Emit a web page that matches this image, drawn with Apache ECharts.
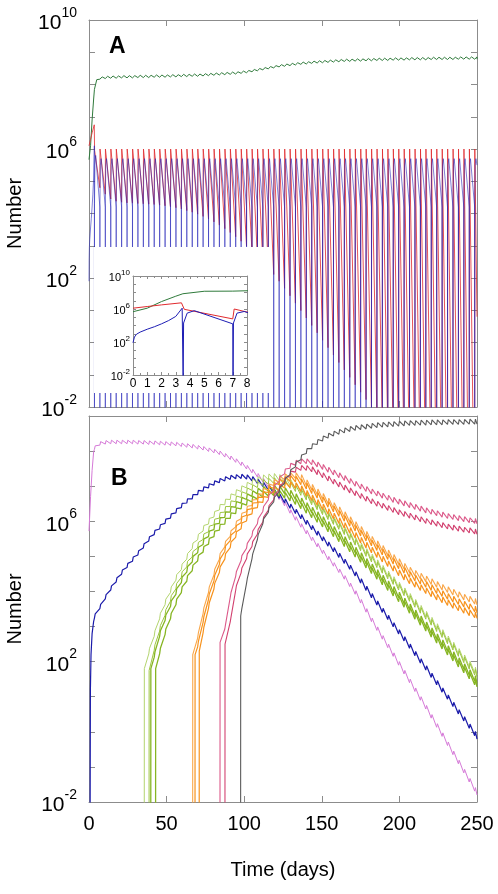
<!DOCTYPE html>
<html><head><meta charset="utf-8">
<script src="https://cdn.jsdelivr.net/npm/echarts@6/dist/echarts.min.js"></script>
<style>html,body{margin:0;padding:0;background:#fff}#c{width:498px;height:894px}</style>
</head><body><div id="c"></div>
<script>
// ---------- DATA (values are log10 of Number) ----------
const doseDays = [
  0, 3.5, 7, 10.5, 14, 17.5, 21, 24.5, 28, 31.5,
  35, 38.5, 42, 45.5, 49, 52.5, 56, 59.5, 63, 66.5,
  70, 73.5, 77, 80.5, 84, 87.5, 91, 94.5, 98, 101.5,
  105, 108.5, 112, 115.5, 119, 122.5, 126, 129.5, 133, 136.5,
  140, 143.5, 147, 150.5, 154, 157.5, 161, 164.5, 168, 171.5,
  175, 178.5, 182, 185.5, 189, 192.5, 196, 199.5, 203, 206.5,
  210, 213.5, 217, 220.5, 224, 227.5, 231, 234.5, 238, 241.5,
  245, 248.5
];
const endDay = 250;
const yLabelsA = [-2, 2, 6, 10];
const yLabelsB = [-2, 2, 6];

// Panel A
const greenALead = [[0, 5.67], [1, 6.1], [2, 6.9], [3, 7.55], [3.5, 7.85], [5, 8.15]];
const greenALog = [ // from day 7
  8.2, 8.22, 8.23, 8.23, 8.24, 8.24, 8.24, 8.25,
  8.25, 8.25, 8.26, 8.26, 8.26, 8.27, 8.27, 8.28, 8.28, 8.29,
  8.29, 8.3, 8.31, 8.32, 8.33, 8.34, 8.35, 8.36, 8.38, 8.4,
  8.43, 8.46, 8.49, 8.52, 8.55, 8.58, 8.6, 8.62, 8.64, 8.66,
  8.67, 8.69, 8.7, 8.71, 8.72, 8.73, 8.74, 8.75, 8.75, 8.76,
  8.76, 8.77, 8.77, 8.78, 8.78, 8.78, 8.79, 8.79, 8.79, 8.8,
  8.8, 8.8, 8.8, 8.81, 8.81, 8.81, 8.81, 8.81, 8.82, 8.82,
  8.82, 8.82, 8.82
];
const redLead = [[0, 6.1], [1, 6.3], [2, 6.5], [3.4, 6.75]];
const redPreLog = [ // just before each dose, from day 3.5
  6.77, 4.8, 4.6, 4.45, 4.38, 4.35, 4.33, 4.32, 4.31,
  4.3, 4.29, 4.28, 4.26, 4.24, 4.21, 4.18, 4.14, 4.09, 4.04,
  3.98, 3.91, 3.83, 3.74, 3.64, 3.53, 3.41, 3.28, 3.14, 2.99,
  2.83, 2.66, 2.49, 2.3, 2.11, 1.9, 1.68, 1.45, 1.22, 0.99,
  0.76, 0.53, 0.3, 0.07, -0.16, -0.39, -0.62, -0.85, -1.08, -1.31,
  -1.54, -1.77, -2.0, -2.23, -2.46, -2.69, -2.92, -3.15, -3.38, -3.61,
  -3.84, -4.07, -4.3, -4.53, -4.76, -4.99, -5.22, -5.45, -5.68, -5.91,
  -6.14, -6.37
];
const redPeakLog = [ // just after each dose, from day 3.5
  5.96, 6, 6, 6, 6, 6, 6, 6, 6,
  6, 6, 6, 6, 6, 6, 6, 6, 6, 6,
  6, 6, 6, 6, 6, 6, 6, 6, 6, 6,
  6, 6, 6, 6, 6, 6, 6, 6, 6, 6,
  6, 6, 6, 6, 6, 6, 6, 6, 6, 6,
  6, 6, 6, 6, 6, 6, 6, 6, 6, 6,
  6, 6, 6, 6, 6, 6, 6, 6, 6, 6,
  6, 6
];
const redEndLog = 0.8;
const blueALead = [[0, 1.9], [0.1, 2.6], [0.25, 2.95], [0.5, 3.2], [1, 3.55], [1.5, 3.85], [2, 4.2], [2.5, 4.6], [3, 5.1], [3.45, 6.1]];
const bluePreLog = [
  6.1, 4.2, 4.2, 4.2, 4.2, 4.2, 4.2, 4.2, 4.2,
  4.2, 4.2, 4.2, 4.2, 4.2, 4.2, 4.2, 4.2, 4.2, 4.2,
  4.2, 4.2, 4.2, 4.2, 4.2, 4.2, 4.2, 4.2, 4.2, 4.2,
  4.2, 4.2, 4.2, 4.2, 4.2, 4.2, 4.2, 4.2, 4.2, 4.2,
  4.2, 4.2, 4.2, 4.2, 4.2, 4.2, 4.2, 4.2, 4.2, 4.2,
  4.2, 4.2, 4.2, 4.2, 4.2, 4.2, 4.2, 4.2, 4.2, 4.2,
  4.2, 4.2, 4.2, 4.2, 4.2, 4.2, 4.2, 4.2, 4.2, 4.2,
  4.2, 4.2
];
const bluePeakLog = [
  5.8, 5.7, 5.7, 5.7, 5.7, 5.7, 5.7, 5.7, 5.7,
  5.7, 5.7, 5.7, 5.7, 5.7, 5.7, 5.7, 5.7, 5.7, 5.7,
  5.7, 5.7, 5.7, 5.7, 5.7, 5.7, 5.7, 5.7, 5.7, 5.7,
  5.7, 5.7, 5.7, 5.7, 5.7, 5.7, 5.7, 5.7, 5.7, 5.7,
  5.7, 5.7, 5.7, 5.7, 5.7, 5.7, 5.7, 5.7, 5.7, 5.7,
  5.7, 5.7, 5.7, 5.7, 5.7, 5.7, 5.7, 5.7, 5.7, 5.7,
  5.7, 5.7, 5.7, 5.7, 5.7, 5.7, 5.7, 5.7, 5.7, 5.7,
  5.7, 5.7
];
const blueRestartLog = 4.3;
const blueShoulderLog = 5.5;
const blueEndLog = 5.5;

// Panel B
const violetLead = [[0, 5.72], [1, 6.7], [2, 7.45], [3, 7.98]];
const violetLog = [ // from day 3.5
  8.1, 8.22, 8.25, 8.26, 8.26, 8.26, 8.26, 8.26, 8.25,
  8.25, 8.24, 8.24, 8.23, 8.22, 8.21, 8.2, 8.18, 8.16, 8.14,
  8.11, 8.08, 8.04, 8.0, 7.95, 7.88, 7.81, 7.73, 7.64, 7.54,
  7.43, 7.31, 7.17, 7.02, 6.85, 6.67, 6.49, 6.28, 6.08, 5.88,
  5.69, 5.5, 5.32, 5.13, 4.95, 4.77, 4.59, 4.4, 4.19, 3.97,
  3.72, 3.46, 3.19, 2.94, 2.69, 2.45, 2.2, 1.95, 1.7, 1.45,
  1.2, 0.95, 0.7, 0.44, 0.18, -0.08, -0.34, -0.6, -0.86, -1.12,
  -1.38, -1.64, -1.75
];
const blueBLead = [[0.7, -3], [0.9, 1.2], [1.3, 2.2], [2, 2.8], [3, 3.15]];
const blueBLog = [ // from day 3.5
  3.3, 3.57, 3.85, 4.1, 4.33, 4.55, 4.74, 4.92, 5.1,
  5.3, 5.5, 5.68, 5.84, 6.0, 6.15, 6.3, 6.45, 6.58, 6.7,
  6.82, 6.92, 7.01, 7.09, 7.16, 7.21, 7.25, 7.27, 7.28, 7.26,
  7.21, 7.14, 7.05, 6.95, 6.85, 6.72, 6.58, 6.43, 6.28, 6.13,
  5.97, 5.82, 5.66, 5.5, 5.35, 5.19, 5.03, 4.86, 4.69, 4.5,
  4.3, 4.09, 3.88, 3.67, 3.46, 3.26, 3.05, 2.85, 2.65, 2.44,
  2.23, 2.02, 1.82, 1.61, 1.4, 1.19, 0.99, 0.78, 0.57, 0.37,
  0.16, -0.05, -0.15
];
const green1Lead = [[35.6, -3], [35.65, 1.8]];
const green1Log = [ // from day 38.5
  2.3, 2.8, 3.3, 3.7, 4.05, 4.4, 4.7, 5.0, 5.3,
  5.55, 5.8, 6.0, 6.2, 6.4, 6.55, 6.7, 6.82, 6.93, 7.03,
  7.12, 7.19, 7.24, 7.27, 7.28, 7.25, 7.19, 7.11, 7.01, 6.89,
  6.75, 6.6, 6.46, 6.32, 6.18, 6.04, 5.9, 5.75, 5.6, 5.45,
  5.3, 5.14, 4.98, 4.82, 4.66, 4.5, 4.34, 4.18, 4.02, 3.86,
  3.69, 3.52, 3.35, 3.18, 3.0, 2.83, 2.65, 2.47, 2.29, 2.11,
  1.93, 1.76, 1.7
];
const green2Lead = [[38.7, -3], [38.75, 1.75]];
const green2Log = [ // from day 42
  2.4, 2.95, 3.4, 3.8, 4.15, 4.48, 4.78, 5.06,
  5.32, 5.56, 5.78, 5.98, 6.17, 6.34, 6.5, 6.64, 6.76, 6.87,
  6.96, 7.04, 7.1, 7.14, 7.16, 7.14, 7.09, 7.02, 6.93, 6.82,
  6.69, 6.55, 6.41, 6.27, 6.13, 5.99, 5.85, 5.7, 5.55, 5.4,
  5.24, 5.08, 4.92, 4.76, 4.6, 4.44, 4.28, 4.12, 3.96, 3.8,
  3.63, 3.46, 3.29, 3.12, 2.94, 2.77, 2.59, 2.41, 2.23, 2.05,
  1.87, 1.7, 1.63
];
const green3Lead = [[39.8, -3], [39.85, 1.8]];
const green3Log = [ // from day 42
  2.2, 2.8, 3.25, 3.65, 4.0, 4.33, 4.63, 4.92,
  5.18, 5.42, 5.64, 5.84, 6.02, 6.19, 6.34, 6.48, 6.6, 6.7,
  6.79, 6.86, 6.91, 6.94, 6.94, 6.92, 6.87, 6.8, 6.7, 6.58,
  6.45, 6.32, 6.19, 6.05, 5.91, 5.77, 5.63, 5.48, 5.33, 5.18,
  5.02, 4.86, 4.7, 4.54, 4.38, 4.22, 4.06, 3.9, 3.73, 3.56,
  3.39, 3.22, 3.05, 2.88, 2.71, 2.54, 2.37, 2.2, 2.03, 1.86,
  1.69, 1.52, 1.45
];
const green4Lead = [[42.9, -3], [42.95, 1.8]];
const green4Log = [ // from day 45.5
  2.3, 2.85, 3.3, 3.7, 4.05, 4.37, 4.67,
  4.95, 5.2, 5.43, 5.64, 5.83, 6.0, 6.16, 6.3, 6.43, 6.54,
  6.63, 6.71, 6.77, 6.8, 6.81, 6.79, 6.74, 6.66, 6.56, 6.44,
  6.31, 6.18, 6.05, 5.92, 5.78, 5.64, 5.5, 5.36, 5.21, 5.06,
  4.91, 4.75, 4.59, 4.43, 4.27, 4.11, 3.95, 3.79, 3.63, 3.46,
  3.29, 3.12, 2.95, 2.78, 2.61, 2.44, 2.27, 2.1, 1.93, 1.76,
  1.59, 1.42, 1.36
];
const orange1Lead = [[66.8, -3], [66.85, 2.2]];
const orange1Log = [ // from day 70
  2.75, 3.45, 4.05, 4.55, 5.0, 5.35, 5.65, 5.92, 6.15, 6.35,
  6.53, 6.7, 6.85, 6.98, 7.1, 7.2, 7.27, 7.3, 7.3, 7.25,
  7.1, 6.97, 6.84, 6.71, 6.58, 6.45, 6.33, 6.19, 6.05, 5.91,
  5.77, 5.63, 5.49, 5.36, 5.23, 5.1, 4.97, 4.85, 4.72, 4.61,
  4.52, 4.44, 4.36, 4.28, 4.2, 4.12, 4.05, 3.98, 3.91, 3.84,
  3.78, 3.72, 3.7
];
const orange2Lead = [[68.3, -3], [68.35, 2.2]];
const orange2Log = [ // from day 70
  2.5, 3.2, 3.85, 4.38, 4.85, 5.22, 5.53, 5.8, 6.04, 6.25,
  6.44, 6.61, 6.76, 6.9, 7.02, 7.12, 7.19, 7.22, 7.2, 7.12,
  7.0, 6.87, 6.74, 6.61, 6.48, 6.35, 6.22, 6.08, 5.94, 5.8,
  5.66, 5.52, 5.38, 5.25, 5.12, 4.99, 4.86, 4.73, 4.6, 4.48,
  4.38, 4.29, 4.2, 4.11, 4.02, 3.94, 3.86, 3.78, 3.71, 3.64,
  3.57, 3.5, 3.47
];
const orange3Lead = [[71, -3], [71.05, 2.3]];
const orange3Log = [ // from day 73.5
  2.9, 3.6, 4.15, 4.62, 5.0, 5.33, 5.62, 5.87, 6.09,
  6.29, 6.47, 6.62, 6.76, 6.88, 6.97, 7.03, 7.05, 7.02, 6.93,
  6.8, 6.67, 6.54, 6.41, 6.28, 6.15, 6.02, 5.88, 5.74, 5.6,
  5.46, 5.32, 5.18, 5.05, 4.92, 4.79, 4.66, 4.53, 4.41, 4.3,
  4.2, 4.11, 4.02, 3.93, 3.84, 3.76, 3.68, 3.6, 3.53, 3.46,
  3.39, 3.33, 3.31
];
const crimson1Lead = [[84.4, -3], [84.45, 2.55]];
const crimson1Log = [ // from day 87.5
  3.0, 3.9, 4.5, 4.95, 5.3,
  5.65, 6.0, 6.35, 6.68, 6.95, 7.2, 7.42, 7.58, 7.67, 7.71,
  7.71, 7.68, 7.62, 7.55, 7.47, 7.39, 7.31, 7.23, 7.15, 7.07,
  6.99, 6.92, 6.85, 6.79, 6.73, 6.67, 6.61, 6.56, 6.51, 6.46,
  6.41, 6.36, 6.31, 6.27, 6.23, 6.19, 6.15, 6.12, 6.09, 6.06,
  6.03, 6.01, 6.0
];
const crimson2Lead = [[87.6, -3], [87.65, 2.5]];
const crimson2Log = [ // from day 91
  3.2, 4.1, 4.6, 5.0,
  5.35, 5.7, 6.05, 6.38, 6.68, 6.95, 7.18, 7.36, 7.47, 7.52,
  7.52, 7.48, 7.4, 7.31, 7.22, 7.13, 7.05, 6.96, 6.88, 6.8,
  6.72, 6.64, 6.57, 6.5, 6.44, 6.38, 6.32, 6.26, 6.21, 6.16,
  6.11, 6.06, 6.01, 5.97, 5.93, 5.89, 5.85, 5.82, 5.79, 5.76,
  5.74, 5.71, 5.7
];
const grayLead = [[97.7, -3], [97.75, 3.3]];
const grayLog = [ // from day 98
  3.45, 4.3,
  5.0, 5.55, 6.0, 6.32, 6.62, 6.9, 7.15, 7.4, 7.62, 7.82,
  8.0, 8.14, 8.26, 8.36, 8.44, 8.5, 8.55, 8.59, 8.63, 8.66,
  8.68, 8.7, 8.72, 8.74, 8.75, 8.76, 8.77, 8.78, 8.79, 8.8,
  8.8, 8.81, 8.81, 8.82, 8.82, 8.82, 8.83, 8.83, 8.83, 8.83,
  8.84, 8.84, 8.84
];

// ---------- BUILDERS ----------
function sawtooth(lead, firstDay, levels, amp, rise) {
  const pts = lead.map(p => p.slice());
  let k = doseDays.indexOf(firstDay);
  for (let i = 0; i < levels.length - 1 && k < doseDays.length; i++, k++) {
    const t = doseDays[k];
    pts.push([t, levels[i] - amp]);
    pts.push([t + rise, levels[i] + amp]);
  }
  pts.push([endDay, levels[levels.length - 1] - amp]);
  return pts;
}
function buildRed() {
  const pts = redLead.map(p => p.slice());
  for (let i = 0; i < redPreLog.length; i++) {
    const t = doseDays[i + 1];
    pts.push([t, redPreLog[i]]);
    pts.push([t + 0.1, redPeakLog[i]]);
  }
  pts.push([endDay, redEndLog]);
  return pts;
}
function buildBlueA() {
  const pts = blueALead.map(p => p.slice());
  for (let i = 0; i < bluePreLog.length; i++) {
    const t = doseDays[i + 1];
    pts.push([t, bluePreLog[i]]);
    pts.push([t + 0.02, -3]);
    pts.push([t + 0.05, blueRestartLog]);
    pts.push([t + 0.3, blueShoulderLog]);
    pts.push([t + 0.8, bluePeakLog[i]]);
  }
  pts.push([endDay, blueEndLog]);
  return pts;
}

const greenA = sawtooth(greenALead, 7, greenALog, 0.035, 1.5);
const redA = buildRed();
const blueA = buildBlueA();

const FONT = '"Liberation Sans", Arial, Helvetica, sans-serif';
const AX = '#8c8c8c';

function powLabels(list, base, sup, pad, margin) {
  return {
    show: true, margin: margin, color: '#000',
    formatter: v => list.indexOf(Math.round(v)) >= 0 ? '{b|10}{s|' + Math.round(v) + '}' : '',
    rich: {
      b: { fontSize: base, fontFamily: FONT, color: '#000', padding: [pad, 0, 0, 0] },
      s: { fontSize: sup, fontFamily: FONT, color: '#000', verticalAlign: 'top' }
    }
  };
}
function xAx(grid, pos, min, max, interval, label, extra) {
  return Object.assign({
    type: 'value', gridIndex: grid, position: pos, min: min, max: max, interval: interval,
    axisLine: { show: true, onZero: false, lineStyle: { color: AX, width: 1 } },
    axisTick: { show: true, inside: true, length: 6, lineStyle: { color: AX } },
    splitLine: { show: false },
    axisLabel: label || { show: false }
  }, extra || {});
}
function yAx(grid, pos, min, max, label, extra, tickLen) {
  return Object.assign({
    type: 'value', gridIndex: grid, position: pos, min: min, max: max, interval: 1,
    axisLine: { show: true, onZero: false, lineStyle: { color: AX, width: 1 } },
    axisTick: { show: true, inside: true, length: tickLen || 6, lineStyle: { color: AX } },
    splitLine: { show: false },
    axisLabel: label || { show: false }
  }, extra || {});
}
const nameY = { name: 'Number', nameLocation: 'middle', nameRotate: 90, nameGap: 64,
  nameTextStyle: { fontSize: 20, fontFamily: FONT, color: '#000' } };

function line(data, xi, yi, color, width, opacity, z) {
  return { type: 'line', data: data, xAxisIndex: xi, yAxisIndex: yi, symbol: 'none', showSymbol: false,
    silent: true, clip: true, z: z || 2, lineStyle: { color: color, width: width, opacity: opacity == null ? 1 : opacity } };
}

const RISE = 0.5;
const series = [
  // Panel A
  line(greenA, 0, 0, '#2f7a3b', 1),
  line(redA, 0, 0, '#e02a2e', 1, 0.8),
  line(blueA, 0, 0, '#2424b8', 1, 0.58),
  // Inset
  line(greenA, 4, 4, '#2f7a3b', 1, 1, 12),
  line(redA, 4, 4, '#e02a2e', 1, 1, 12),
  line(blueA, 4, 4, '#1e1eb4', 1, 1, 12),
  // Panel B
  line(sawtooth(violetLead, 3.5, violetLog, 0.05, RISE), 2, 2, '#d67ad8', 1),
  line(sawtooth(blueBLead, 3.5, blueBLog, 0.06, RISE), 2, 2, '#1b1baa', 1.2),
  line(sawtooth(green1Lead, 38.5, green1Log, 0.08, RISE), 2, 2, '#b3d46e', 1),
  line(sawtooth(green2Lead, 42, green2Log, 0.08, RISE), 2, 2, '#9cc53f', 1),
  line(sawtooth(green3Lead, 42, green3Log, 0.08, RISE), 2, 2, '#86b522', 1.3),
  line(sawtooth(green4Lead, 45.5, green4Log, 0.08, RISE), 2, 2, '#86b522', 1.3),
  line(sawtooth(orange1Lead, 70, orange1Log, 0.08, RISE), 2, 2, '#f9a648', 1.1),
  line(sawtooth(orange2Lead, 70, orange2Log, 0.08, RISE), 2, 2, '#f7921c', 1.2),
  line(sawtooth(orange3Lead, 73.5, orange3Log, 0.08, RISE), 2, 2, '#f7921c', 1.2),
  line(sawtooth(crimson1Lead, 87.5, crimson1Log, 0.07, RISE), 2, 2, '#dc5a8a', 1.1),
  line(sawtooth(crimson2Lead, 91, crimson2Log, 0.07, RISE), 2, 2, '#d2406f', 1.1),
  line(sawtooth(grayLead, 98, grayLog, 0.07, RISE), 2, 2, '#5a5a5a', 1.1)
];

const option = {
  animation: false,
  backgroundColor: '#fff',
  grid: [
    { left: 89, top: 20, width: 388, height: 387, containLabel: false, outerBoundsMode: 'none' },
    { left: 89, top: 416, width: 388, height: 386, containLabel: false, outerBoundsMode: 'none' },
    { left: 133, top: 276, width: 114, height: 99, containLabel: false, outerBoundsMode: 'none' }
  ],
  xAxis: [
    xAx(0, 'bottom', 0, 250, 50),
    xAx(0, 'top', 0, 250, 50),
    xAx(1, 'bottom', 0, 250, 50, { show: true, margin: 12, fontSize: 20, fontFamily: FONT, color: '#000' },
      { name: 'Time (days)', nameLocation: 'middle', nameGap: 58, nameTextStyle: { fontSize: 20, fontFamily: FONT, color: '#000' } }),
    xAx(1, 'top', 0, 250, 50),
    xAx(2, 'bottom', 0, 8, 1, { show: true, margin: 3, fontSize: 12, fontFamily: FONT, color: '#000' },
      { z: 12, axisTick: { show: true, inside: true, length: 3, lineStyle: { color: AX } },
        minorTick: { show: true, splitNumber: 2, length: 2, lineStyle: { color: AX } } }),
    xAx(2, 'top', 0, 8, 1, null,
      { z: 12, axisTick: { show: true, inside: true, length: 3, lineStyle: { color: AX } },
        minorTick: { show: true, splitNumber: 2, length: 2, lineStyle: { color: AX } } })
  ],
  yAxis: [
    yAx(0, 'left', -2, 10, powLabels(yLabelsA, 21, 14, 7, 12), nameY),
    yAx(0, 'right', -2, 10),
    yAx(1, 'left', -2, 9, powLabels(yLabelsB, 21, 14, 7, 12), nameY),
    yAx(1, 'right', -2, 9),
    yAx(2, 'left', -2, 10, powLabels(yLabelsA, 11, 8, 4, 3), { z: 12 }, 3),
    yAx(2, 'right', -2, 10, null, { z: 12 }, 3)
  ],
  graphic: [
    { type: 'rect', shape: { x: 94, y: 247, width: 177, height: 146 }, style: { fill: '#fff' }, z: 6, silent: true },
    { type: 'text', left: 109, top: 35, z: 20, style: { text: 'A', font: 'bold 23px ' + FONT, fill: '#000' } },
    { type: 'text', left: 111, top: 467, z: 20, style: { text: 'B', font: 'bold 23px ' + FONT, fill: '#000' } }
  ],
  series: series
};
const chart = echarts.init(document.getElementById('c'));
chart.setOption(option);
</script></body></html>
